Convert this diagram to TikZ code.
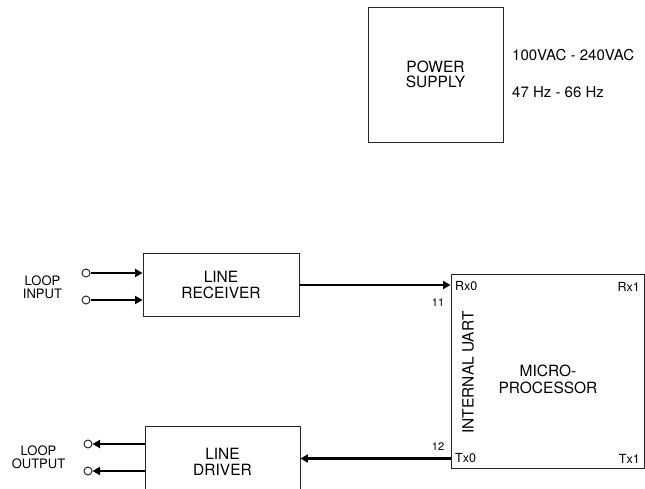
\documentclass[tikz,border=0pt]{standalone}
\usepackage{fontspec}
\setmainfont{TeX Gyre Heros}
\usetikzlibrary{arrows.meta}
\begin{document}
\begin{tikzpicture}[x=1pt,y=-1pt,
  box/.style={draw=black!85, line width=0.9pt, rectangle, inner sep=0pt, align=center,
    font=\fontsize{15.5}{16.5}\selectfont},
  arr/.style={line width=2.4pt, -{Triangle[length=7.5pt,width=8pt]}},
  term/.style={draw=black!85, line width=1pt, circle, minimum size=8pt, inner sep=0pt},
  lbl/.style={inner sep=0pt, align=center, font=\fontsize{13}{12.5}\selectfont},
  pin/.style={inner sep=0pt, font=\fontsize{12.5}{12.5}\selectfont},
  num/.style={inner sep=0pt, font=\fontsize{11}{11}\selectfont},
  spec/.style={inner sep=0pt, anchor=west, font=\fontsize{15}{15}\selectfont}]
\useasboundingbox (0,0) rectangle (645,488);
\clip (0,0) rectangle (645,488);
% power supply
\node[box, minimum width=135pt, minimum height=135pt,
  font=\fontsize{15.5}{15}\selectfont] (ps) at (435.5,74.5) {POWER\\SUPPLY};
\node[spec] (v) at (512,55) {100VAC - 240VAC};
\node[spec] (hz) at (512,92.5) {47 Hz - 66 Hz};
% line receiver
\node[box, minimum width=156pt, minimum height=63pt] (rx) at (221,285) {LINE\\RECEIVER};
% line driver
\node[box, minimum width=155pt, minimum height=72pt] (dr) at (222.5,462) {LINE\\DRIVER};
% microprocessor
\node[box, minimum width=193pt, minimum height=194pt] (mc) at (547.5,371) {};
\node[box, draw=none] (mtxt) at (548,379.5) {MICRO-\\PROCESSOR};
\node[box, draw=none, rotate=90] (uart) at (468,372.5) {INTERNAL UART};
\node[pin, anchor=west] (rx0) at (455,286.5) {Rx0};
\node[pin, anchor=east] (rx1) at (640,286.5) {Rx1};
\node[pin, anchor=west] (tx0) at (455,458.5) {Tx0};
\node[pin, anchor=east] (tx1) at (640,458.5) {Tx1};
\node[num] (n11) at (438,303) {11};
\node[num] (n12) at (438,447) {12};
% terminals
\node[term] (i1) at (86,273) {};
\node[term] (i2) at (86,300) {};
\node[term] (o1) at (88,444) {};
\node[term] (o2) at (88,471) {};
\node[lbl] (li) at (42.5,287.5) {LOOP\\INPUT};
\node[lbl] (lo) at (38.5,457.5) {LOOP\\OUTPUT};
% connectors
\draw[arr] (i1.east) -- (i1.east -| rx.west);
\draw[arr] (i2.east) -- (i2.east -| rx.west);
\draw[arr] (rx.east) -- (rx.east -| mc.west);
\draw[arr] (o1.east -| dr.west) -- (o1.east);
\draw[arr] (o2.east -| dr.west) -- (o2.east);
\draw[arr] (tx0.west -| mc.west) -- (tx0.west -| dr.east);
\end{tikzpicture}
\end{document}
